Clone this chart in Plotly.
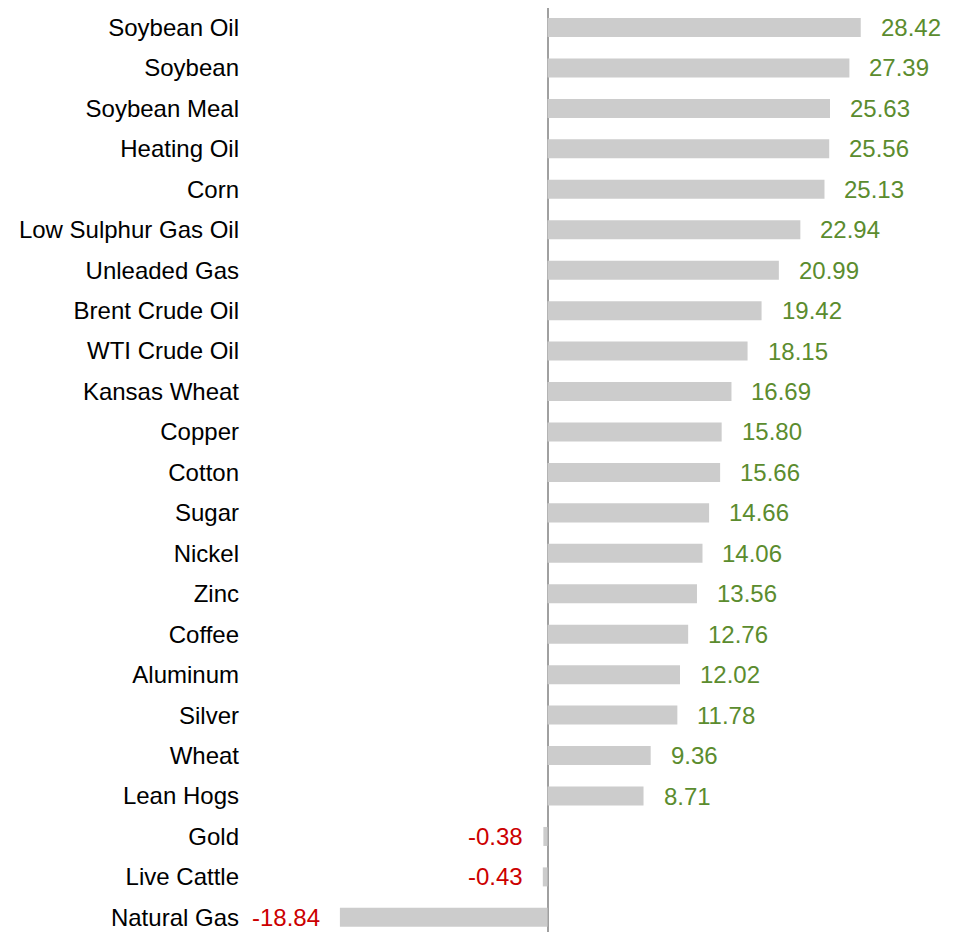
import plotly.graph_objects as go

categories = ["Soybean Oil", "Soybean", "Soybean Meal", "Heating Oil", "Corn",
              "Low Sulphur Gas Oil", "Unleaded Gas", "Brent Crude Oil", "WTI Crude Oil",
              "Kansas Wheat", "Copper", "Cotton", "Sugar", "Nickel", "Zinc", "Coffee",
              "Aluminum", "Silver", "Wheat", "Lean Hogs", "Gold", "Live Cattle", "Natural Gas"]
values = [28.42, 27.39, 25.63, 25.56, 25.13, 22.94, 20.99, 19.42, 18.15, 16.69, 15.80,
          15.66, 14.66, 14.06, 13.56, 12.76, 12.02, 11.78, 9.36, 8.71, -0.38, -0.43, -18.84]
labels = [f"{v:.2f}" for v in values]

FONT = "Liberation Sans, Arial, sans-serif"
GREEN = "#5b8c2e"
RED = "#cc0000"

fig = go.Figure()
fig.add_trace(go.Bar(
    x=values, y=categories, orientation="h",
    marker=dict(color="#cccccc", line=dict(width=0)),
    width=0.47, hoverinfo="x+y",
))

annotations = []
for c, v, t in zip(categories, values, labels):
    pos = v >= 0
    annotations.append(dict(
        x=v, y=c, xref="x", yref="y", text=t, showarrow=False,
        xanchor="left" if pos else "right", xshift=18 if pos else -18,
        font=dict(family=FONT, size=24, color=GREEN if pos else RED),
    ))

fig.update_layout(
    width=957, height=932,
    margin=dict(l=240, r=0, t=0, b=0, autoexpand=False),
    paper_bgcolor="white", plot_bgcolor="white",
    showlegend=False,
    annotations=annotations,
    bargap=0.5,
    xaxis=dict(range=[-27.18, 37.88], showgrid=False, showticklabels=False,
               zeroline=True, zerolinecolor="#a0a0a0", zerolinewidth=2,
               showline=False, ticks=""),
    yaxis=dict(type="category", categoryorder="array", categoryarray=categories,
               range=[22.56, -0.482], showgrid=False, showline=False, ticks="",
               ticklabelstandoff=8,
               tickfont=dict(family=FONT, size=24, color="#000000")),
)

fig.write_html("out.html")
